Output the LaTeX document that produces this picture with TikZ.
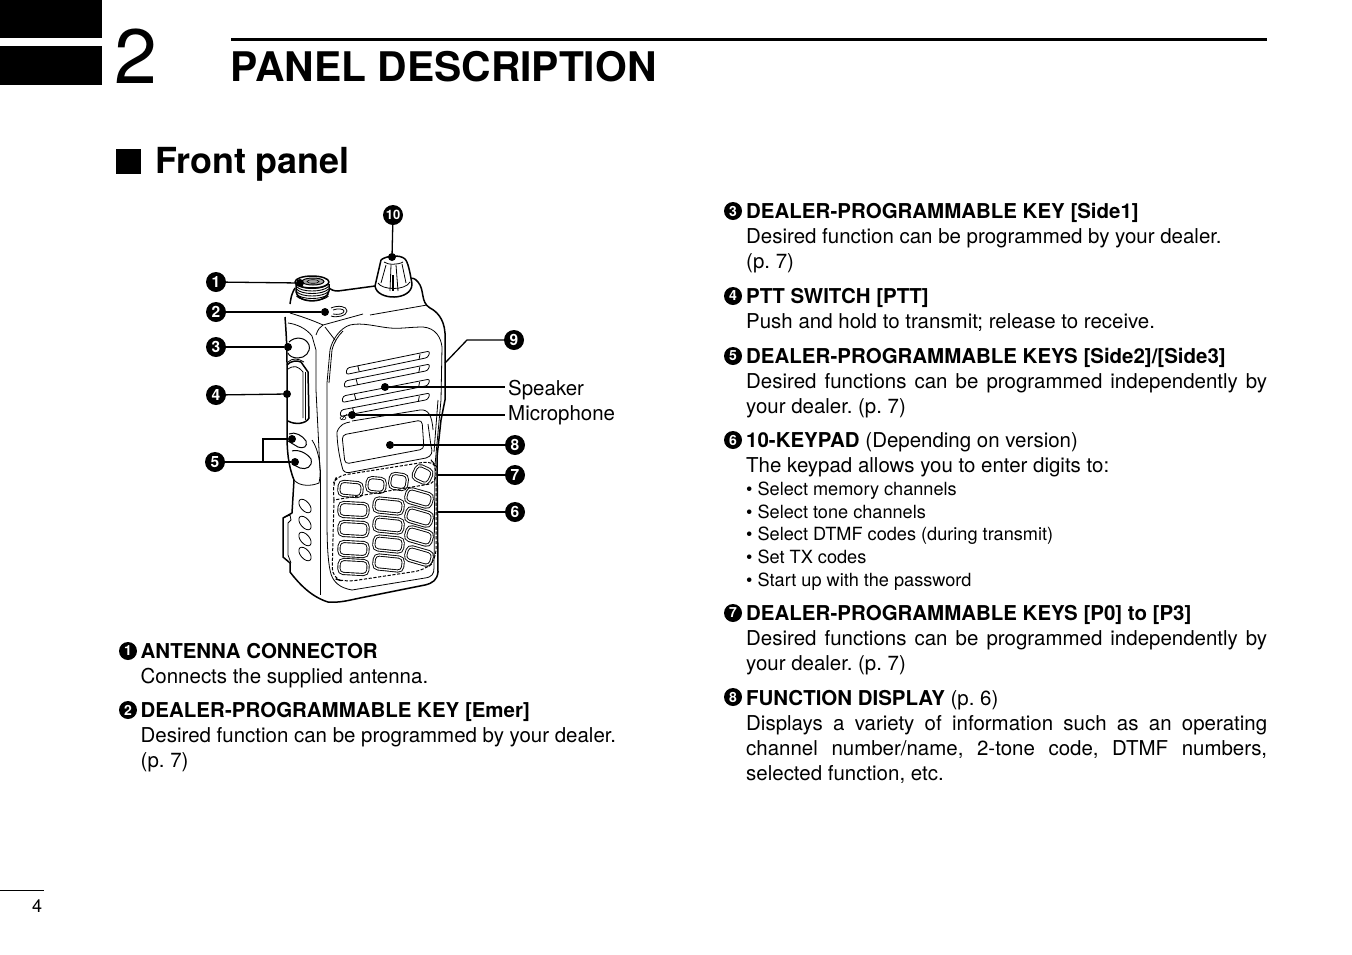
\documentclass[tikz,border=0pt]{standalone}
\usepackage{fontspec}
\setmainfont{TeX Gyre Heros}
\usetikzlibrary{calc,shapes.geometric}
\frenchspacing
\tikzset{
  num/.style={circle,fill=black,text=white,inner sep=0pt,minimum size=20pt,font=\fontsize{15.5}{15.5}\selectfont\bfseries},
  num10/.style={num,font=\fontsize{13}{13}\selectfont\bfseries},
  bul/.style={circle,fill=black,inner sep=0pt,minimum size=18pt,text=white,font=\fontsize{14}{14}\selectfont\bfseries},
  tdot/.style={circle,fill=black,inner sep=0pt,minimum size=8pt},
  lead/.style={line width=1.3pt,black},
  outl/.style={line width=1.5pt,black,line join=round},
  btn/.style={line width=1pt,black,line join=round},
  thin1/.style={line width=0.8pt,black,line join=round},
  para/.style={anchor=north west,inner sep=0pt,text width=521pt,align=justify,font=\fontsize{20.47}{25}\selectfont},
  parat/.style={anchor=north west,inner sep=0pt,align=left,font=\fontsize{20.47}{25}\selectfont},
  small/.style={anchor=base west,inner sep=0pt,font=\fontsize{18.15}{22}\selectfont},
  lab/.style={anchor=base west,inner sep=0pt,font=\fontsize{20.47}{25}\selectfont},
  key/.style={draw=black,line width=0.9pt,double=white,double distance=1.3pt,rounded corners=4.5pt},
  dashl/.style={line width=1pt,black,dash pattern=on 3.2pt off 1.6pt},
}
\newcommand{\slit}[4]{\draw[thin1,rounded corners=2.5pt,fill=white] (#1,#2) -- (#3,#4) -- ($(#3,#4)+(-2,6.5)$) -- ($(#1,#2)+(-1,6.5)$) -- cycle;
  \draw[thin1] ($(#3,#4)!0.12!(#1,#2)+(0,1)$) -- ($(#3,#4)!0.12!(#1,#2)+(-1,6.5)$);
  \draw[thin1] ($(#1,#2)!0.13!(#3,#4)+(0,0)$) -- ($(#1,#2)!0.16!(#3,#4)+(-1,6.5)$);}
\newcommand{\kkey}[5]{\draw[key,rotate around={#5:($(#1,#2)!0.5!(#3,#4)$)}] (#1,#2) rectangle (#3,#4);}
\begin{document}
\begin{tikzpicture}[x=1pt,y=-1pt]
\useasboundingbox (0,0) rectangle (1352,954);
% chapter header
\fill[black] (0,0) rectangle (102,38);
\fill[black] (0,45.5) rectangle (102,85);
\node[anchor=base west,inner sep=0pt,font=\fontsize{77}{77}\selectfont] (chap) at (114,83) {2};
\draw[line width=3pt] (231,39) -- (1267,39);
\node[anchor=base west,inner sep=0pt,font=\fontsize{40.8}{43}\selectfont\bfseries] (title) at (230.5,81.5) {PANEL DESCRIPTION};
\node[anchor=base west,inner sep=0pt,font=\fontsize{35.9}{37}\selectfont\bfseries] (sect) at (155,173.5) {Front panel};
\fill[black] (116,149) rectangle (141,174);
% page number
\draw[line width=0.6pt] (0,890) -- (44,890);
\node[anchor=base west,inner sep=0pt,font=\fontsize{18}{18}\selectfont] (page) at (32,912) {4};

% ---- radio body ----
\draw[outl] (295,288) .. controls (291,295) and (291,298) .. (290,304);
\draw[outl] (285,317) .. controls (286,330) and (287,345) .. (287,363) -- (287,433)
  .. controls (287,450) and (288,465) .. (294,480)
  -- (292,513) -- (283,518) -- (283,557) -- (290,563) -- (290,572)
  .. controls (300,585) and (312,597) .. (328,602)
  .. controls (340,603) and (350,600) .. (360,598)
  -- (425,585) .. controls (433,583) and (437,580) .. (438,572)
  -- (437,457) -- (441,420) -- (445,400) -- (445,333)
  .. controls (444,318) and (436,311) .. (430,308)
  .. controls (420,302) and (425,290) .. (418,282)
  .. controls (415,278) and (412,278) .. (409,278);
\draw[outl] (328,287) .. controls (331,290) and (334,291) .. (338,291) -- (375,286);
% side cover
\draw[thin1] (294,480) .. controls (300,487) and (312,486) .. (319,483) .. controls (322,470) and (319,450) .. (312,440);
\draw[thin1] (283,518) -- (290,515) -- (291,520) -- (288,523) -- (288,555) -- (291,563);
\draw[thin1] (290,313) .. controls (300,316) and (312,320) .. (323,325);
\draw[thin1] (288,323) .. controls (296,324) and (306,328) .. (312,336) -- (316,350) -- (316,390);
\draw[thin1] (316,390) -- (320,470);
\draw[thin1] (323,325) .. controls (320,327) and (318,329) .. (316,335);
\draw[thin1] (325,327) -- (335,340);
% long thin lines on top
\draw[thin1] (323,325) -- (363,314);
\draw[thin1] (370,315) -- (427,305);
% front panel inner curve
\draw[thin1] (442,347) .. controls (441,338) and (436,328) .. (423,327)
  .. controls (410,327) and (400,329) .. (390,328)
  .. controls (378,327) and (362,322) .. (350,325)
  .. controls (340,328) and (332,340) .. (330,350)
  -- (327,383) -- (327,520) .. controls (327,545) and (328,560) .. (330,570)
  .. controls (332,582) and (340,588) .. (352,590)
  -- (425,578) .. controls (432,577) and (434,574) .. (434,568) -- (435,465) -- (441,400) -- (442,347);
\draw[thin1] (329,383) -- (332,350) .. controls (334,342) and (338,336) .. (343,331);
\draw[thin1] (320,470) -- (320,595);
\draw[thin1] (438,400) -- (434,452);

% antenna connector
\draw[outl,fill=white] (296,283) -- (296,292) .. controls (298,304) and (327,304) .. (329,291) -- (329,284);
\foreach \yy in {284,286.5,289,291.5,294,296}{
  \draw[line width=0.9pt] (296.5,\yy) .. controls (301,\yy+6) and (323,\yy+6) .. (328.5,\yy);}
\draw[outl,fill=white] (312,282) ellipse (17pt and 6pt);
\draw[line width=1pt,fill=gray!70] (313,281.5) ellipse (11pt and 3.5pt);
\draw[line width=0.6pt] (313,281.5) ellipse (6pt and 1.8pt);

% volume knob
\draw[outl,fill=white] (381,260) .. controls (385,256) and (400,254) .. (405,259)
  .. controls (408,262) and (410,272) .. (412,284)
  .. controls (412,301) and (377,301) .. (375,286) -- (381,260);
\draw[thin1] (378,283) .. controls (382,290) and (405,291) .. (410,282);
\draw[thin1] (384,262) .. controls (388,265) and (398,265) .. (403,262);
\foreach \a/\b/\c/\d in {386/265/381/283,391/265/390/291,396/265/398/291,402/264/406/283}{
  \draw[thin1] (\a,\b) -- (\c,\d);}
\draw[line width=1.4pt] (393,275) -- (393,291);

% emergency key
\draw[thin1] (331,308) .. controls (338,305) and (347,306) .. (347,311) .. controls (347,316) and (336,318) .. (331,316);
\draw[thin1] (333,310) .. controls (338,308) and (344,309) .. (344,311) .. controls (344,314) and (338,315) .. (333,314);
% side buttons
\draw[btn,fill=white] (289,342) .. controls (295,336) and (306,337) .. (309,345)
  .. controls (311,352) and (305,358) .. (298,358) .. controls (293,358) and (289,356) .. (288,353);
\draw[outl] (287,365) .. controls (290,361) and (297,360) .. (301,362) -- (308,372) -- (309,418)
  .. controls (306,424) and (295,425) .. (288,421);
\draw[thin1] (288,369) .. controls (294,365) and (298,366) .. (303,372) -- (303,418);
\draw[thin1] (288,362) .. controls (292,358) and (298,358) .. (304,362);
\draw[thin1] (305,372) -- (305,420);
\draw[btn,fill=white] (289,434) .. controls (295,431) and (303,436) .. (306,441) .. controls (308,447) and (303,449) .. (298,447) -- (288,441);
\draw[btn,fill=white] (292,451) .. controls (298,449) and (307,453) .. (311,459) .. controls (313,467) and (306,470) .. (300,468) -- (292,464);

% speaker slits
\slit{347}{368}{430}{351}
\slit{345}{381}{430}{364}
\slit{343}{396}{430}{379}
\slit{341}{410}{430}{393}

% microphone icon
\draw[line width=0.5pt] (343,418) ellipse (3pt and 1.8pt);
\draw[line width=0.5pt] (347,414) -- (341,420);

% display
\draw[thin1] (350,422) .. controls (345,423) and (340,424) .. (337,432) .. controls (337,445) and (340,460) .. (343,470)
  .. controls (345,473) and (348,473) .. (352,472) -- (426,458) .. controls (432,456) and (433,452) .. (431,446) -- (428,424);
\draw[thin1,rounded corners=4pt] (342,435) -- (422,420) -- (424,449) -- (345,464) -- cycle;
\draw[thin1] (352,421) -- (420,410) .. controls (428,409) and (432,415) .. (433,430);

% keys P0..P3
\kkey{339}{482}{362}{496}{-5}
\kkey{367}{478}{385}{492}{-5}
\kkey{390}{474}{407}{489}{-8}
\kkey{414}{467}{431}{482}{-25}
% keypad
\foreach \yy in {503,522,542,560}{\kkey{339}{\yy}{368}{\yy+14}{-3}}
\foreach \yy in {499,518,537,556}{\kkey{374}{\yy}{403}{\yy+14}{-6}}
\foreach \yy in {491,510,529,549}{\kkey{406}{\yy}{432}{\yy+14}{-16}}
% dashed outlines
\draw[dashl,rounded corners=8pt] (334,500) -- (333,484) -- (337,476) -- (432,461) -- (436,466) -- (436,483) -- (334,500);
\draw[dashl,rounded corners=10pt] (334,500) -- (332,578) -- (345,582) -- (425,570) -- (436,560) -- (436,483);

% side ovals
\foreach \yy in {506,523,539,554}{\draw[thin1,rotate around={-50:(305,\yy)}] (305,\yy) ellipse (8pt and 4.5pt);}

% ---- callouts ----
\node[num] (n1) at (216,282) {1};
\node[num] (n2) at (216,312) {2};
\node[num] (n3) at (216,347) {3};
\node[num] (n4) at (216,395) {4};
\node[num] (n5) at (215,462) {5};
\node[num] (n6) at (515,512) {6};
\node[num] (n7) at (515,475) {7};
\node[num] (n8) at (515,445) {8};
\node[num] (n9) at (514,340) {9};
\node[num10] (n10) at (393,215) {10};
\node[tdot] (d1) at (300,283) {};
\node[tdot] (d2) at (325,312) {};
\node[tdot] (d3) at (288,347) {};
\node[tdot] (d4) at (287,394) {};
\node[tdot] (d5a) at (292,439) {};
\node[tdot] (d5b) at (295,462) {};
\node[tdot] (d8) at (390,445) {};
\node[tdot] (d10) at (392,257) {};
\node[tdot] (dsp) at (385,387) {};
\node[tdot] (dmi) at (352,415) {};
\coordinate (c5) at (263,462);
\coordinate (k5) at (263,439);
\coordinate (e6) at (437,512);
\coordinate (e7) at (438,475);
\coordinate (e9) at (445,363);
\coordinate (k9) at (467,340);
\coordinate (esp) at (505,387);
\coordinate (emi) at (505,415);
\draw[lead] (n1) -- (d1);
\draw[lead] (n2) -- (d2);
\draw[lead] (n3) -- (d3);
\draw[lead] (n4) -- (d4);
\draw[lead] (n5) -- (c5) -- (d5b);
\draw[lead] (c5) -- (k5) -- (d5a);
\draw[lead] (n6) -- (e6);
\draw[lead] (n7) -- (e7);
\draw[lead] (n8) -- (d8);
\draw[lead] (n9) -- (k9) -- (e9);
\draw[lead] (n10) -- (d10);
\draw[lead] (dsp) -- (esp);
\draw[lead] (dmi) -- (emi);
\node[lab] (sp) at (508,395) {Speaker};
\node[lab] (mi) at (508,420.5) {Microphone};

% ---- left text ----
\node[bul] (b1) at (128,651) {1};
\node[parat] (t1) at (140.5,643) {\textbf{ANTENNA CONNECTOR}\\Connects the supplied antenna.};
\node[bul] (b2) at (128,710) {2};
\node[parat] (t2) at (140.5,702) {\textbf{DEALER-PROGRAMMABLE KEY [Emer]}\\Desired function can be programmed by your dealer.\\(p. 7)};
% ---- right text ----
\node[bul] (b3) at (733,211) {3};
\node[parat] (t3) at (746,203) {\textbf{DEALER-PROGRAMMABLE KEY [Side1]}\\Desired function can be programmed by your dealer.\\(p. 7)};
\node[bul] (b4) at (733,296) {4};
\node[parat] (t4) at (746,288) {\textbf{PTT SWITCH [PTT]}\\Push and hold to transmit; release to receive.};
\node[bul] (b5) at (733,356) {5};
\node[para] (t5) at (746,348) {\textbf{DEALER-PROGRAMMABLE KEYS [Side2]/[Side3]}\newline Desired functions can be programmed independently by\linebreak your dealer. (p. 7)};
\node[bul] (b6) at (733,440) {6};
\node[parat] (t6) at (746,432) {\textbf{10-KEYPAD} (Depending on version)\\The keypad allows you to enter digits to:};
\node[small] (s1) at (746,495.5) {• Select memory channels};
\node[small] (s2) at (746,518) {• Select tone channels};
\node[small] (s3) at (746,540.5) {• Select DTMF codes (during transmit)};
\node[small] (s4) at (746,563) {• Set TX codes};
\node[small] (s5) at (746,586) {• Start up with the password};
\node[bul] (b7) at (733,613) {7};
\node[para] (t7) at (746,605) {\textbf{DEALER-PROGRAMMABLE KEYS [P0] to [P3]}\newline Desired functions can be programmed independently by\linebreak your dealer. (p. 7)};
\node[bul] (b8) at (733,697) {8};
\node[para] (t8) at (746,690) {\textbf{FUNCTION DISPLAY} (p. 6)\newline Displays a variety of information such as an operating\linebreak channel number/name, 2-tone code, DTMF numbers,\linebreak selected function, etc.};
\end{tikzpicture}
\end{document}
